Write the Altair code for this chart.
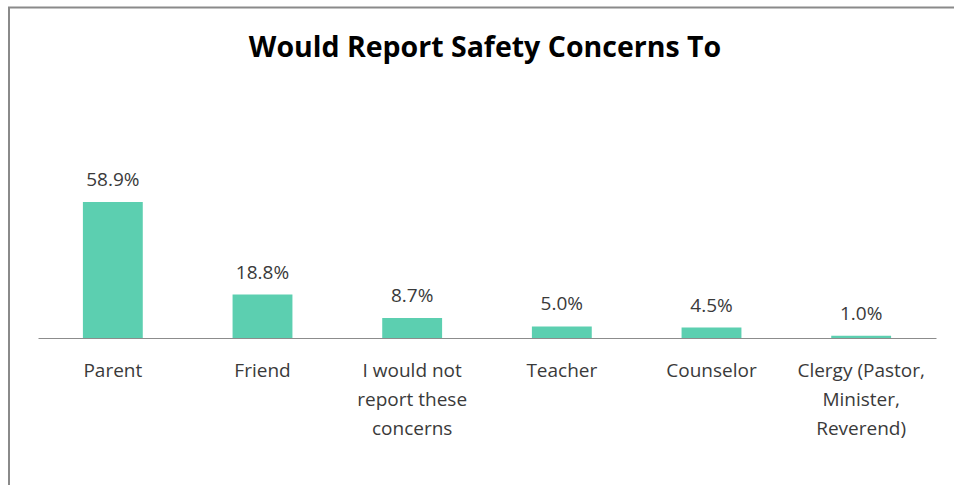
import altair as alt
import pandas as pd

title_text = "Would Report Safety Concerns To"
categories = ["Parent", "Friend", "I would not|report these|concerns", "Teacher", "Counselor", "Clergy (Pastor,|Minister,|Reverend)"]
values = [58.9, 18.8, 8.7, 5.0, 4.5, 1.0]

df = pd.DataFrame({"category": categories, "value": values})

FONT = "Open Sans"
TEXT_COLOR = "#3a3a3a"

x_enc = alt.X(
    "category:N",
    sort=None,
    scale=alt.Scale(paddingInner=0.6, paddingOuter=0.3),
    axis=alt.Axis(
        title=None,
        labelAngle=0,
        labelExpr="split(datum.label, '|')",
        labelFont=FONT,
        labelFontSize=19,
        labelColor=TEXT_COLOR,
        labelLineHeight=29,
        labelPadding=23,
        labelLimit=0,
        ticks=False,
        domainColor="#8c8c8c",
        domainWidth=1,
        grid=False,
    ),
)
y_enc = alt.Y("value:Q", scale=alt.Scale(domain=[0, 86.6]), axis=None)

base = alt.Chart(df)
bars = base.mark_bar(color="#5ccfb0").encode(x=x_enc, y=y_enc)
labels = base.transform_calculate(
    label="format(datum.value, '.1f') + '%'"
).mark_text(
    baseline="alphabetic", dy=-16, font=FONT, fontSize=19, color=TEXT_COLOR
).encode(x=x_enc, y=y_enc, text="label:N")

single = alt.Data(values=[{"k": 1}])
frame_left = alt.Chart(single).mark_rule(color="#8a8a8a", strokeWidth=2).encode(
    x=alt.value(-29), y=alt.value(-131), y2=alt.value(400)
)
frame_top = alt.Chart(single).mark_rule(color="#8a8a8a", strokeWidth=2).encode(
    x=alt.value(-30), x2=alt.value(960), y=alt.value(-130.5)
)
title = alt.Chart(single).mark_text(
    text=title_text,
    font=FONT,
    fontSize=28.5,
    fontWeight="bold",
    color="#000000",
    align="center",
    baseline="alphabetic",
).encode(x=alt.value(447), y=alt.value(-81))

chart = alt.layer(frame_left, frame_top, title, bars, labels).properties(
    width=898,
    height=200,
    padding={"left": 38, "top": 138, "right": 18, "bottom": 147},
    autosize=alt.AutoSizeParams(type="none"),
).configure_view(stroke=None)

chart.save("out.html", embed_options={"renderer": "svg", "actions": False})
